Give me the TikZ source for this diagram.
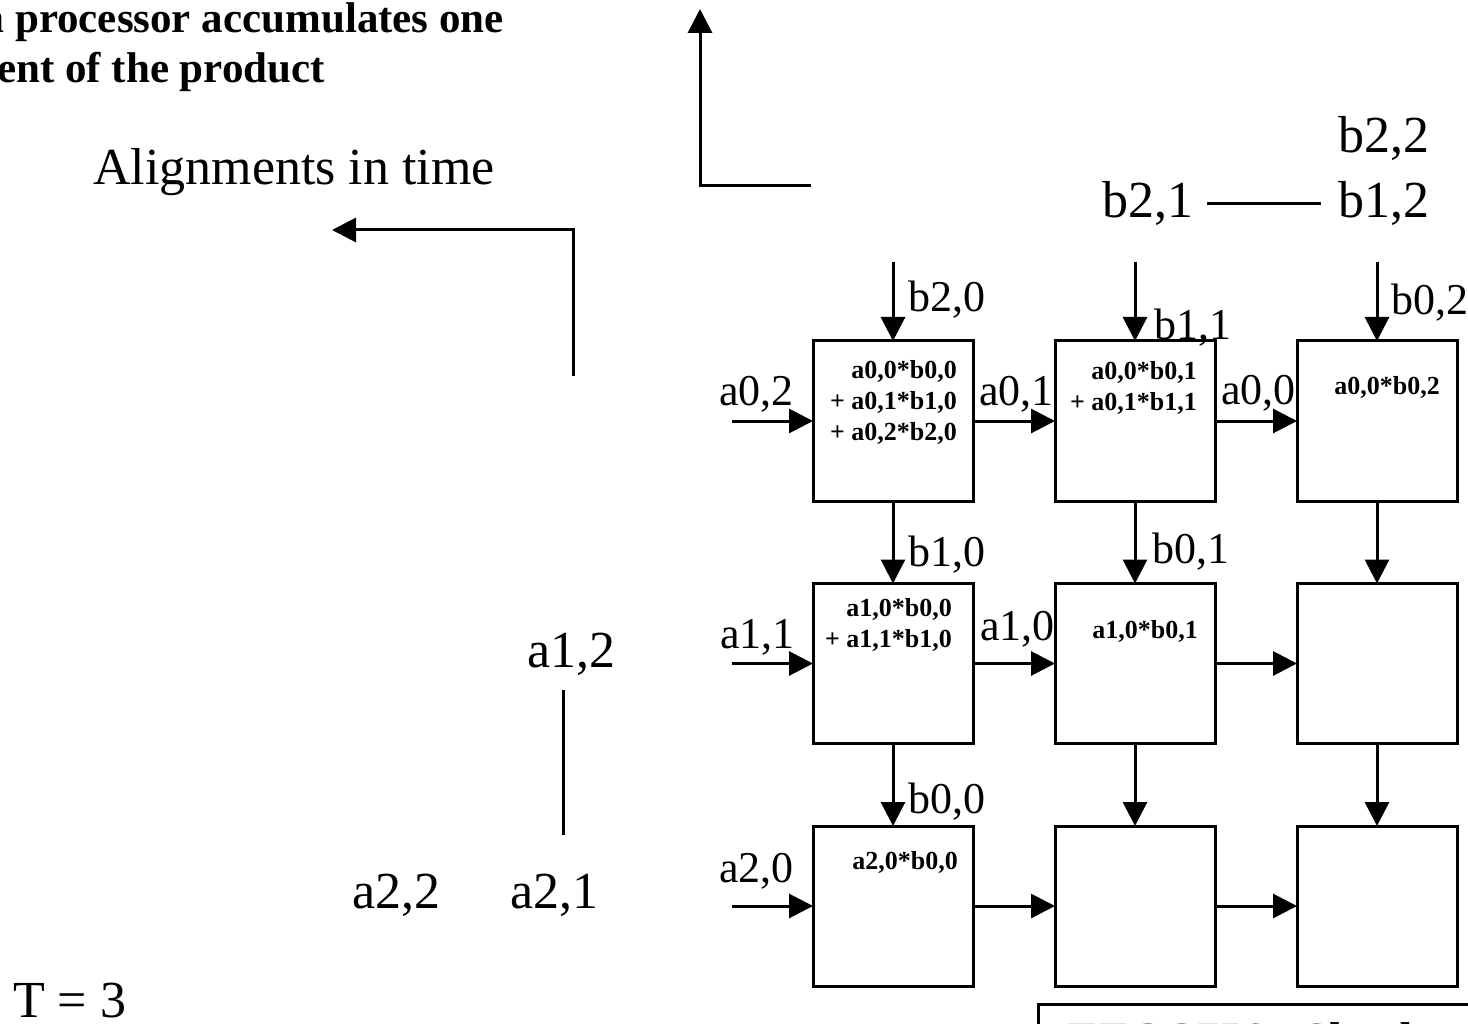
\documentclass[tikz,border=0pt]{standalone}
\usepackage{fontspec}
\setmainfont{Liberation Serif}
\usetikzlibrary{positioning,arrows.meta}

\begin{document}
\begin{tikzpicture}[x=1pt, y=-1pt,
  pe/.style={draw, line width=3pt, minimum size=160pt, inner sep=0pt, outer sep=0pt},
  celltxt/.style={align=right, inner sep=0pt, font=\fontsize{26}{31}\selectfont\bfseries},
  lbl/.style={inner sep=0pt, anchor=base west, font=\fontsize{44}{52}\selectfont},
  big/.style={inner sep=0pt, anchor=base west, font=\fontsize{52}{62}\selectfont},
  ln/.style={line width=3pt},
  arr/.style={line width=3pt, -{Triangle[length=24pt, width=24pt]}}]
\path[use as bounding box] (0,0) rectangle (1468,1024);
\clip (0,0) rectangle (1468,1024);
% header and time alignment arrows
\node[anchor=north west, align=left, inner sep=0pt,
      font=\fontsize{43}{50}\selectfont\bfseries] (title) at (-89,2)
  {Each processor accumulates one\\element of the product};
\node[big] (algn) at (93,185) {Alignments in time};
\coordinate (lv) at (573,376);
\coordinate (lh) at (332,230);
\draw[arr] (lv) |- (lh);
\coordinate (tc) at (811,186);
\coordinate (tt) at (700,9);
\draw[arr] (tc) -| (tt);
% waiting a and b elements
\node[big] (a12) at (527,667) {a1,2};
\node[big] (a22) at (352,908) {a2,2};
\node[big] (a21) at (510,908) {a2,1};
\coordinate (vtop) at (563,690);
\coordinate (vbot) at (563,835);
\draw[ln] (vtop) -- (vbot);
\node[big, anchor=base east] (b22) at (1430,153) {b2,2};
\node[big, anchor=base east] (b12) at (1430,218) {b1,2};
\node[big] (b21) at (1102,218) {b2,1};
\draw[ln, shorten <=14pt, shorten >=18pt] (b21) -- (b12);
\node[big] (tval) at (13,1017) {T = 3};
% processor grid
\foreach \r in {0,1,2}
  \foreach \c in {0,1,2}
    \node[pe] (p\r\c) at ({893+242*\c},{421+242.5*\r}) {};
\foreach \r in {0,1,2} {
  \coordinate (ain\r) at (732,{421+242.5*\r});
  \draw[arr] (ain\r) -- (p\r0);
  \draw[arr] (p\r0) -- (p\r1);
  \draw[arr] (p\r1) -- (p\r2);
}
\foreach \c in {0,1,2} {
  \coordinate (bin\c) at ({893+242*\c},262);
  \draw[arr] (bin\c) -- (p0\c);
  \draw[arr] (p0\c) -- (p1\c);
  \draw[arr] (p1\c) -- (p2\c);
}
% partial sums
\node[celltxt, below left=19pt and 16pt of p00.north east] (t00)
  {a0,0*b0,0\\+ a0,1*b1,0\\+ a0,2*b2,0};
\node[celltxt, below left=20pt and 18pt of p01.north east] (t01)
  {a0,0*b0,1\\+ a0,1*b1,1};
\node[celltxt, below left=35pt and 17pt of p02.north east] (t02) {a0,0*b0,2};
\node[celltxt, below left=15pt and 21pt of p10.north east] (t10)
  {a1,0*b0,0\\+ a1,1*b1,0};
\node[celltxt, below left=37pt and 17pt of p11.north east] (t11) {a1,0*b0,1};
\node[celltxt, below left=25pt and 15pt of p20.north east] (t20) {a2,0*b0,0};
% flowing elements
\node[lbl] (lb20) at (908,312) {b2,0};
\node[lbl] (lb11) at (1154,340) {b1,1};
\node[lbl] (lb02) at (1391,315) {b0,2};
\node[lbl] (lb10) at (908,566) {b1,0};
\node[lbl] (lb01) at (1152,563) {b0,1};
\node[lbl] (lb00) at (908,813) {b0,0};
\node[lbl] (la02) at (719,406) {a0,2};
\node[lbl] (la01) at (979,406) {a0,1};
\node[lbl] (la00) at (1221,405) {a0,0};
\node[lbl] (la11) at (720,648) {a1,1};
\node[lbl] (la10) at (980,640) {a1,0};
\node[lbl] (la20) at (719,882) {a2,0};
% footer
\node[draw, line width=3pt, anchor=north west, inner xsep=30pt, inner ysep=18pt,
      font=\fontsize{46}{55}\selectfont\bfseries] (foot) at (1037,1003)
  {EECC756 - Shaaban};
\end{tikzpicture}
\end{document}
